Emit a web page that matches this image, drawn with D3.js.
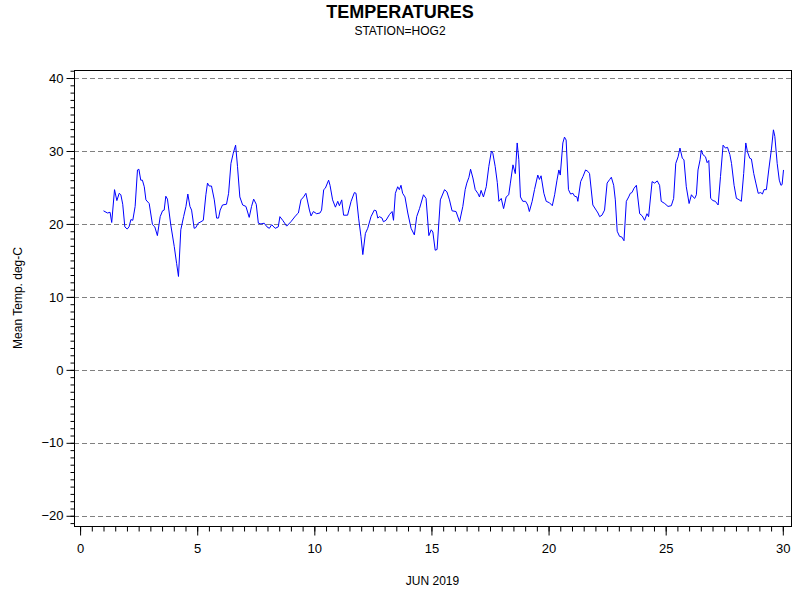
<!DOCTYPE html>
<html>
<head>
<meta charset="utf-8">
<script src="https://cdn.jsdelivr.net/npm/d3@7"></script>
<style>
    body { margin: 0; background: #fff; }
    svg text { font-family: "Liberation Sans", Arial, sans-serif; }
</style>
</head>
<body>
<div id="chart"></div>
<script>
// day of June (fractional) and mean temperature
const days = [
    1.00, 1.17, 1.28, 1.35, 1.47, 1.57, 1.67, 1.74, 1.82, 1.91, 2.01, 2.09, 2.17, 2.25, 2.35, 2.45, 2.51, 2.59, 2.66, 2.74,
    2.81, 2.95, 3.09, 3.19, 3.30, 3.42, 3.52, 3.59, 3.66, 3.73, 3.87, 4.02, 4.12, 4.20, 4.30, 4.42, 4.52, 4.60, 4.69, 4.76,
    4.87, 4.94, 5.04, 5.16, 5.26, 5.37, 5.44, 5.51, 5.61, 5.73, 5.83, 5.91, 5.98, 6.08, 6.25, 6.34, 6.44, 6.54, 6.64, 6.72,
    6.82, 6.94, 7.08, 7.22, 7.32, 7.41, 7.52, 7.61, 7.72, 7.86, 7.98, 8.08, 8.18, 8.33, 8.46, 8.53, 8.65, 8.82, 9.00, 9.22,
    9.32, 9.43, 9.54, 9.64, 9.79, 9.86, 9.96, 10.10, 10.24, 10.31, 10.40,
    10.47, 10.61, 10.67, 10.78, 10.90, 11.00, 11.07, 11.17, 11.25, 11.42, 11.57, 11.71, 11.78, 11.89, 11.99, 12.07, 12.18,
    12.28, 12.42, 12.56, 12.64, 12.71, 12.78, 12.89, 12.95, 13.06, 13.21, 13.32, 13.38, 13.46, 13.56, 13.63, 13.70, 13.77,
    13.87, 13.99, 14.13, 14.27, 14.37, 14.49, 14.66, 14.77, 14.89, 14.99, 15.06, 15.16, 15.24, 15.38, 15.56, 15.66, 15.77,
    15.88, 16.05, 16.20, 16.34, 16.44, 16.51, 16.60, 16.67, 16.77, 16.87, 16.98, 17.05, 17.12, 17.22, 17.34, 17.45, 17.56,
    17.62, 17.72, 17.81, 17.88, 17.98, 18.08, 18.19, 18.30, 18.37, 18.48, 18.58, 18.66, 18.73, 18.80, 18.90, 19.02, 19.11,
    19.18, 19.30, 19.40, 19.54, 19.61, 19.68, 19.80, 19.90, 20.04, 20.16, 20.26, 20.36, 20.44,
    20.50, 20.61, 20.68, 20.75, 20.85, 20.94, 21.04, 21.11, 21.21, 21.25, 21.37, 21.47, 21.58, 21.68, 21.75, 21.89, 22.03,
    22.11, 22.18, 22.28, 22.39, 22.50, 22.61, 22.68, 22.78, 22.85, 22.93, 23.03, 23.13, 23.22, 23.32, 23.42, 23.49, 23.56,
    23.65, 23.75, 23.89, 24.00, 24.10, 24.20, 24.27, 24.42, 24.53, 24.64, 24.74, 24.81, 24.96, 25.10, 25.24, 25.34, 25.43,
    25.53, 25.61, 25.71, 25.78, 25.88, 26.00, 26.10, 26.17, 26.24, 26.31, 26.38, 26.47, 26.52, 26.59, 26.70, 26.77, 26.84,
    26.92, 27.02, 27.12, 27.24, 27.34, 27.45, 27.55, 27.64, 27.74, 27.81, 27.92, 28.02, 28.09, 28.23, 28.33, 28.42, 28.49,
    28.59, 28.66, 28.76, 28.85, 28.95, 29.06, 29.13, 29.20, 29.30, 29.40, 29.52, 29.60, 29.66, 29.76, 29.85, 29.92, 29.97, 30.03
];
const temps = [
    21.8, 21.5, 21.6, 20.2, 24.7, 23.2, 24.2, 24.0, 22.7, 19.6, 19.3, 19.6, 20.6, 20.5, 22.4, 27.4, 27.5, 26.0, 26.0, 25.1,
    23.3, 22.8, 19.9, 19.6, 18.4, 21.0, 21.8, 21.9, 23.8, 23.4, 19.9, 16.9, 14.6, 12.8, 19.2, 21.0, 22.4, 24.1, 22.4, 21.9,
    19.4, 19.5, 20.1, 20.3, 20.5, 24.0, 25.6, 25.2, 25.2, 23.3, 20.8, 20.8, 21.9, 22.6, 22.7, 24.2, 28.3, 29.7, 30.8, 27.9,
    23.7, 22.6, 22.4, 20.9, 22.4, 23.4, 22.7, 20.1, 20.0, 20.1, 19.6, 19.4, 19.9, 19.4, 19.6, 21.0, 20.5, 19.7, 20.3, 21.2,
    21.5, 23.3, 23.7, 24.2, 21.9, 21.1, 21.7, 21.4, 21.5, 21.9, 24.7,
    24.9, 26.0, 25.3, 23.3, 22.3, 23.1, 22.5, 23.3, 21.2, 21.2, 23.1, 24.3, 24.2, 20.8, 18.3, 15.8, 18.7,
    19.4, 21.0, 21.9, 21.8, 20.8, 21.0, 20.8, 20.3, 20.5, 21.3, 21.7, 20.5, 24.2, 25.1, 24.7, 25.3, 24.2,
    23.7, 21.5, 19.4, 18.5, 21.0, 22.1, 24.0, 23.5, 18.4, 19.2, 18.9, 16.4, 16.5, 23.3, 24.7, 24.4, 23.3,
    21.8, 21.7, 20.3, 22.4, 24.7, 25.6, 26.4, 27.5, 26.3, 24.7, 24.2, 23.7, 24.6, 23.7, 25.1, 27.9, 30.0,
    29.7, 27.9, 25.7, 23.1, 23.5, 22.1, 23.7, 24.0, 25.6, 28.1, 26.9, 31.1, 28.8, 23.7, 23.1, 23.1, 22.6,
    21.7, 23.1, 24.7, 26.7, 26.1, 26.6, 24.2, 23.1, 22.9, 22.5, 24.0, 26.0, 27.4,
    26.7, 31.1, 31.9, 31.5, 24.7, 24.1, 24.2, 23.8, 23.7, 23.1, 25.8, 26.5, 27.4, 27.2, 26.9, 22.6, 21.9,
    21.5, 21.0, 21.2, 21.9, 25.6, 26.1, 26.4, 25.3, 23.3, 19.0, 18.3, 18.2, 17.7, 23.1, 23.7, 24.2, 24.3,
    24.9, 25.3, 21.4, 21.1, 20.5, 21.4, 21.0, 25.8, 25.6, 25.9, 25.3, 23.1, 22.8, 22.4, 22.5, 23.5, 28.3,
    29.2, 30.4, 29.0, 28.8, 25.1, 22.8, 24.0, 23.7, 23.5, 24.0, 27.4, 28.8, 30.1, 29.5, 29.2, 28.4, 28.7,
    23.5, 23.2, 23.1, 22.6, 26.5, 30.8, 30.4, 30.5, 29.5, 28.3, 25.3, 23.5, 23.4, 23.1, 26.9, 31.1, 29.9,
    29.0, 28.9, 26.9, 25.6, 24.2, 24.3, 24.1, 24.7, 24.7, 27.4, 30.4, 32.9, 32.0, 28.3, 26.0, 25.3, 25.4, 27.4
];
const xTicks = [0, 5, 10, 15, 20, 25, 30];
const yTicks = [-20, -10, 0, 10, 20, 30, 40];

const width = 800, height = 600;
const plot = { left: 74, right: 791, top: 70, bottom: 526 };

const svg = d3.select('#chart').append('svg')
    .attr('width', width)
    .attr('height', height);

const x = d3.scaleLinear().domain([-0.26, 30.35]).range([plot.left, plot.right]);
const y = d3.scaleLinear().domain([-21.4, 41.1]).range([plot.bottom, plot.top]);

// dashed grid at major y ticks
svg.append('g')
    .selectAll('line')
    .data(yTicks)
    .enter()
    .append('line')
    .attr('x1', plot.left)
    .attr('x2', plot.right)
    .attr('y1', d => Math.round(y(d)) + 0.5)
    .attr('y2', d => Math.round(y(d)) + 0.5)
    .attr('stroke', '#808080')
    .attr('stroke-dasharray', '5,3');

// frame
svg.append('rect')
    .attr('x', plot.left + 0.5)
    .attr('y', plot.top + 0.5)
    .attr('width', plot.right - plot.left)
    .attr('height', plot.bottom - plot.top)
    .attr('fill', 'none')
    .attr('stroke', '#000');

const line = d3.line()
    .x((d, i) => x(days[i]))
    .y(d => y(d));

svg.append('path')
    .datum(temps)
    .attr('fill', 'none')
    .attr('stroke', '#0000ff')
    .attr('stroke-width', 1)
    .attr('d', line);

// axes: minor ticks first, then labelled major ticks
const xAxisY = plot.bottom + 0.5;
svg.append('g')
    .attr('transform', `translate(0,${xAxisY})`)
    .call(d3.axisBottom(x).tickValues(d3.range(0, 30.01, 0.5)).tickSize(5).tickFormat(''))
    .call(g => g.select('.domain').remove());
svg.append('g')
    .attr('transform', `translate(0,${xAxisY})`)
    .call(d3.axisBottom(x).tickValues(xTicks).tickSize(9).tickPadding(8).tickFormat(d3.format('d')))
    .call(g => g.select('.domain').remove())
    .selectAll('text')
    .attr('font-size', 13)
    .attr('fill', '#000');

const yAxisX = plot.left + 0.5;
svg.append('g')
    .attr('transform', `translate(${yAxisX},0)`)
    .call(d3.axisLeft(y).tickValues(d3.range(-21, 41.01, 1)).tickSize(4).tickFormat(''))
    .call(g => g.select('.domain').remove());
svg.append('g')
    .attr('transform', `translate(${yAxisX},0)`)
    .call(d3.axisLeft(y).tickValues(yTicks).tickSize(8).tickPadding(3).tickFormat(d3.format('d')))
    .call(g => g.select('.domain').remove())
    .selectAll('text')
    .attr('font-size', 13)
    .attr('fill', '#000');

svg.selectAll('.tick line').attr('stroke', '#000');

// titles
svg.append('text')
    .attr('x', width / 2).attr('y', 18)
    .attr('text-anchor', 'middle')
    .attr('font-size', 18).attr('font-weight', 'bold')
    .text('TEMPERATURES');
svg.append('text')
    .attr('x', width / 2).attr('y', 35)
    .attr('text-anchor', 'middle')
    .attr('font-size', 12)
    .text('STATION=HOG2');
svg.append('text')
    .attr('x', (plot.left + plot.right) / 2).attr('y', 585)
    .attr('text-anchor', 'middle')
    .attr('font-size', 12)
    .text('JUN 2019');
svg.append('text')
    .attr('transform', `translate(22,${(plot.top + plot.bottom) / 2}) rotate(-90)`)
    .attr('text-anchor', 'middle')
    .attr('font-size', 12)
    .text('Mean Temp. deg-C');
</script>
</body>
</html>
